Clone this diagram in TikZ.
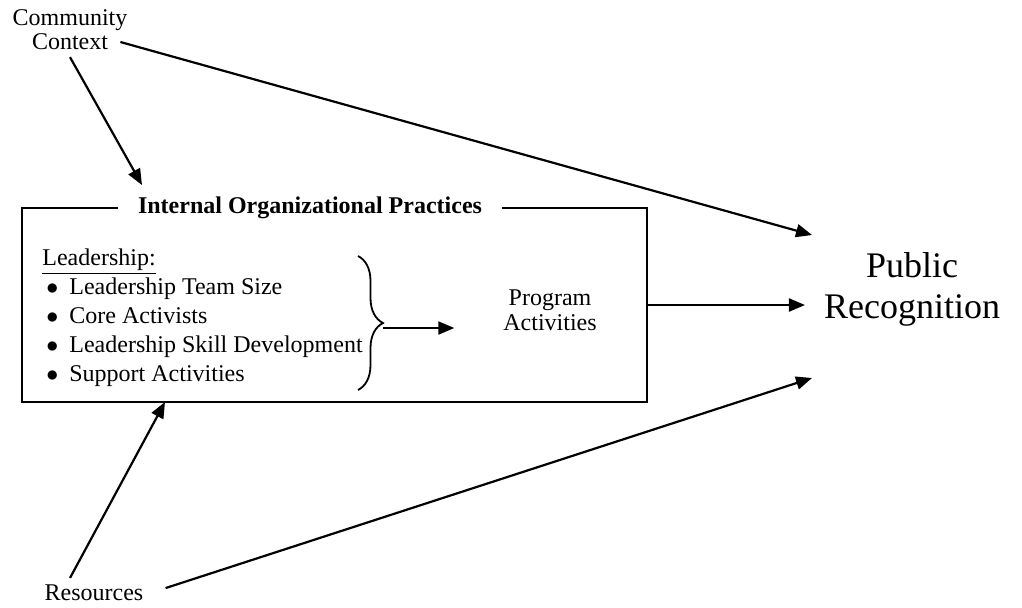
\documentclass[tikz,border=0pt]{standalone}
\usepackage{fontspec}
\setmainfont{Liberation Serif}
\usetikzlibrary{arrows.meta,decorations.pathreplacing}

\tikzset{
  arr/.style={-{Triangle[length=8pt,width=6.5pt]},line width=1.1pt},
  lbl/.style={align=center,font=\fontsize{12}{12.5}\selectfont}
}
\newcommand{\bul}{\hspace*{2pt}$\bullet$\hspace{5.5pt}}

\begin{document}
\begin{tikzpicture}[x=0.5pt,y=-0.5pt]
  \useasboundingbox (0,0) rectangle (1022,607);

  % outside factors
  \node[lbl,font=\fontsize{12}{12}\selectfont] (community) at (70,30) {Community\\Context};
  \node[lbl] (resources) at (94,593) {Resources};
  \node[lbl,font=\fontsize{18}{20.5}\selectfont] (public) at (912,289) {Public\\Recognition};

  % the practices box
  \node[draw,line width=0.8pt,minimum width=312.5pt,minimum height=97pt,
        inner sep=0pt] (practices) at (334.5,305) {};
  \node[fill=white,inner xsep=10pt,font=\fontsize{12}{12}\selectfont\bfseries]
        (title) at (310,208) {Internal Organizational Practices};
  \node[anchor=north west,inner sep=0pt,align=left,
        font=\fontsize{12}{14.5}\selectfont] (leadership) at (42,248)
        {\underline{Leadership:}\\
         \bul Leadership Team Size\\
         \bul Core Activists\\
         \bul Leadership Skill Development\\
         \bul Support Activities};
  \node[lbl] (program) at (550,310) {Program\\Activities};

  \draw[decorate,decoration={brace,amplitude=12.5pt},line width=0.9pt]
        (358,256) -- (358,390);
  \coordinate (bracetip) at (383,328);

  % arrow ends
  \coordinate (ctxin) at (142,185);
  \coordinate (resin) at (165,402);
  \coordinate (pubtop) at (812,235);
  \coordinate (pubbot) at (812,378);

  \draw[arr] (community.south) -- (ctxin);
  \draw[arr] ([xshift=-7pt,yshift=-6pt]community.east) -- (pubtop);
  \draw[arr] ([xshift=-12pt]resources.north) -- (resin);
  \draw[arr,shorten <=8pt] (resources.east) -- (pubbot);
  \draw[arr] (bracetip) -- (bracetip -| program.west) [shorten >=21pt];
  \draw[arr,shorten >=6pt] (practices.east) -- (practices.east -| public.west);
\end{tikzpicture}
\end{document}
